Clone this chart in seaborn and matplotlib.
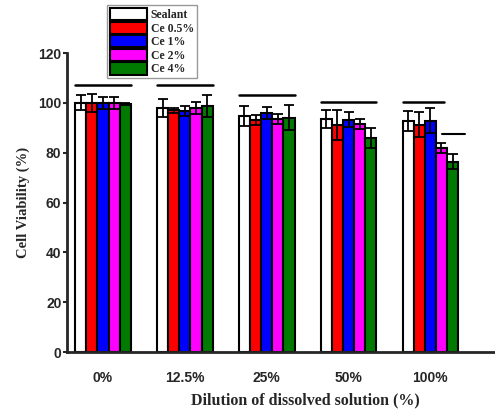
import matplotlib
matplotlib.use("Agg")
import matplotlib.pyplot as plt
import seaborn as sns
import pandas as pd
import numpy as np
from matplotlib.patches import Patch

groups = ["0%", "12.5%", "25%", "50%", "100%"]
series = ["Sealant", "Ce 0.5%", "Ce 1%", "Ce 2%", "Ce 4%"]
colors = ["#ffffff", "#ff0000", "#0000ff", "#ff00ff", "#007a00"]

sealant = [100, 98, 94.8, 93.6, 92.8]
ce05 = [100, 97, 93.2, 91, 91.2]
ce1 = [100, 96.8, 96, 93.2, 92.8]
ce2 = [100, 98, 93.6, 91.5, 82]
ce4 = [99.5, 98.8, 94, 86, 76.3]

sealant_err = [3, 3.5, 4, 3.5, 4]
ce05_err = [3.5, 1, 2, 6, 5]
ce1_err = [2.5, 2, 2.5, 3, 5]
ce2_err = [2.5, 2.5, 2, 2, 2]
ce4_err = [0.5, 4.5, 5, 4, 3]

# significance line heights
sig_y = [107, 107, 103, 100.5, 100.5]
extra_sig = 87.5

values = [sealant, ce05, ce1, ce2, ce4]
errs = [sealant_err, ce05_err, ce1_err, ce2_err, ce4_err]

rows = []
for s, v, e in zip(series, values, errs):
    for g, vv, ee in zip(groups, v, e):
        rows.append({"group": g, "series": s, "value": vv, "err": ee})
df = pd.DataFrame(rows)

sns.set_style("ticks")
fig = plt.figure(figsize=(4.95, 4.11), dpi=100)
ax = fig.add_axes([67/495, 1-352/411, 1-67/495, (352-53)/411])

width = 0.68
sns.barplot(data=df, x="group", y="value", hue="series", order=groups,
            hue_order=series, palette=colors, width=width, errorbar=None,
            edgecolor="black", linewidth=1.5, ax=ax, legend=False, saturation=1)

nb = len(series)
bw = width / nb
for i, s in enumerate(series):
    sub = df[df.series == s].set_index("group").loc[groups]
    xs = np.arange(len(groups)) - width/2 + bw*(i+0.5)
    ax.errorbar(xs, sub["value"], yerr=sub["err"], fmt="none", ecolor="black",
                elinewidth=1.3, capsize=3.5, capthick=1.3, zorder=5)

for gi, y in enumerate(sig_y):
    if gi == 4:
        ax.plot([gi - width/2, gi + 0.17], [y, y], color="black", lw=1.8)
    else:
        ax.plot([gi - width/2, gi + width/2], [y, y], color="black", lw=1.8)
ax.plot([4.14, 4.42], [extra_sig]*2, color="black", lw=1.5)

ax.set_xlim(-0.44, 4.79)
ax.set_ylim(0, 120)
ax.set_yticks([0, 20, 40, 60, 80, 100, 120])
sns.despine(ax=ax)
for sp in ["left", "bottom"]:
    ax.spines[sp].set_linewidth(2)
ax.tick_params(axis="y", length=3, width=1.5, pad=1, direction="out")
ax.tick_params(axis="x", length=0, pad=14)
for lab in ax.get_xticklabels() + ax.get_yticklabels():
    lab.set_fontfamily("Liberation Sans")
    lab.set_fontweight("bold")
    lab.set_fontsize(10)

ax.set_ylabel("Cell Viability (%)", family="Liberation Serif", fontweight="bold", fontsize=10.5, labelpad=6)
ax.set_xlabel("Dilution of dissolved solution (%)", family="Liberation Serif", fontweight="bold", fontsize=11.5)
ax.xaxis.label.set_va("center")
ax.xaxis.set_label_coords((305-67)/428, -(400-352)/299)

handles = [Patch(facecolor=c, edgecolor="black", linewidth=1.5) for c in colors]
leg = fig.legend(handles, series, loc="upper left", bbox_to_anchor=(107/495, 1-5/411),
                 prop={"family": "Liberation Serif", "weight": "bold", "size": 8.5},
                 frameon=True, fancybox=False, edgecolor="gray", handlelength=3.1,
                 handleheight=1.2, handletextpad=0.35, labelspacing=0.05, borderpad=0.25,
                 borderaxespad=0)
leg.get_frame().set_linewidth(1)

fig.savefig("out.png", dpi=100)
